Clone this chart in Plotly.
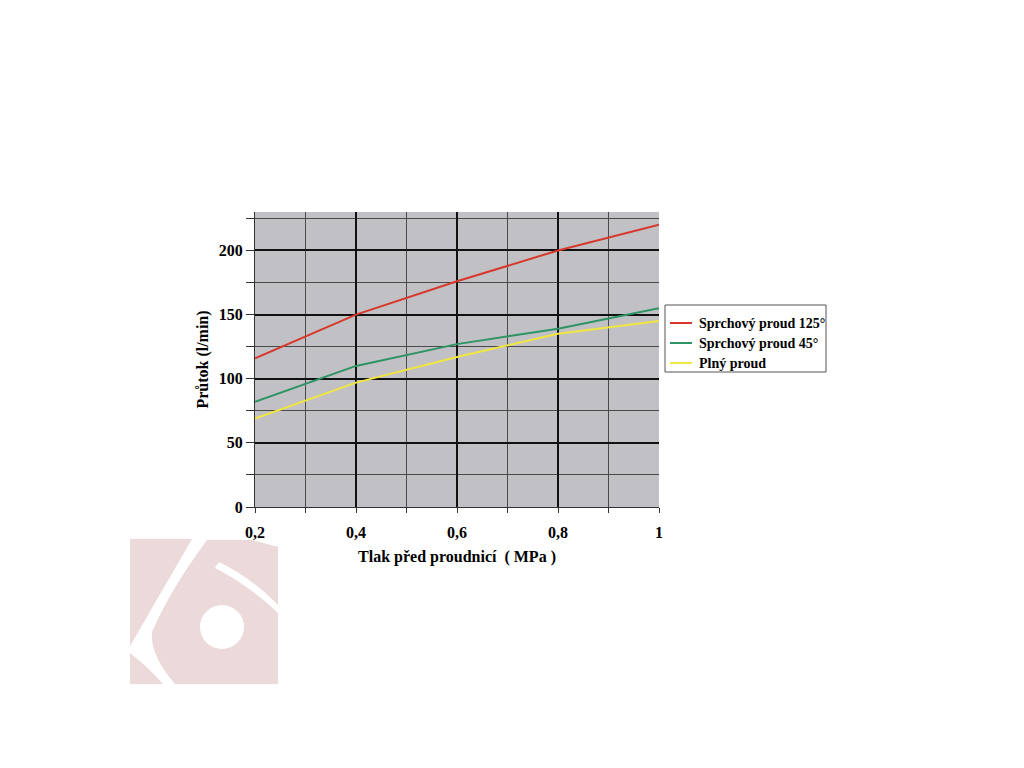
import plotly.graph_objects as go

# Data
pressure = [0.2, 0.4, 0.6, 0.8, 1.0]
spray_125 = [116, 150, 176, 200, 220]
spray_45 = [82, 110, 127, 139, 155]
full_jet = [69, 97, 117, 135, 145]
series_names = ["Sprchový proud 125°", "Sprchový proud 45°", "Plný proud"]
x_tickvals = [0.2, 0.4, 0.6, 0.8, 1.0]
x_ticktext = ["0,2", "0,4", "0,6", "0,8", "1"]
y_tickvals = [0, 50, 100, 150, 200]

colors = ["#d8382c", "#2e9464", "#f0e640"]
FONT = "Liberation Serif"

fig = go.Figure()
for name, ys, c in zip(series_names, [spray_125, spray_45, full_jet], colors):
    fig.add_trace(go.Scatter(x=pressure, y=ys, mode="lines", name=name,
                             line=dict(color=c, width=2), showlegend=False))

# plot area in screen pixels (page body has an 8px margin)
OFF = 8
L, R, T, B = 255, 659, 212, 507
W, H = 1024 - 2 * OFF, 768 - 2 * OFF


def px(x, y):
    return (x - L) / (R - L), (B - y) / (B - T)


def path(points, close=True):
    s = ""
    for cmd, pts in points:
        s += cmd + " ".join("%.4f,%.4f" % px(*p) for p in pts) + " "
    if close:
        s += "Z"
    return s


pink = "#ecd9d9"
shapes = []


def fill(points, color):
    shapes.append(dict(type="path", xref="paper", yref="paper", layer="below",
                       path=path(points), fillcolor=color, line=dict(width=0)))


# logo: left piece
fill([("M", [(130, 539)]), ("L", [(192, 539)]), ("L", [(148, 615)]), ("L", [(130, 646)])], pink)
# logo: bottom-left triangle
fill([("M", [(130, 653)]), ("Q", [(148, 667), (163, 684)]), ("L", [(130, 684)])], pink)
# logo: eye + top-right piece
fill([("M", [(152, 632)]), ("Q", [(170, 590), (207, 540)]), ("L", [(252, 540)]),
      ("L", [(278, 547)]), ("L", [(278, 684)]), ("L", [(175, 684)]),
      ("Q", [(150, 655), (152, 632)])], pink)
# white cut between eye and top-right piece
fill([("M", [(219, 562)]), ("Q", [(252, 578), (279, 606)]), ("L", [(279, 614)]),
      ("Q", [(250, 586), (215, 568)])], "white")
cx, cy, r = 222, 627, 22
x0, y0 = px(cx - r, cy + r)
x1, y1 = px(cx + r, cy - r)
shapes.append(dict(type="circle", xref="paper", yref="paper", layer="below",
                   x0=x0, y0=y0, x1=x1, y1=y1, fillcolor="white", line=dict(width=0)))

# legend (box, line samples, labels)
lx0, ly0 = px(665, 372)
lx1, ly1 = px(826, 305)
shapes.append(dict(type="rect", xref="paper", yref="paper", x0=lx0, y0=ly0, x1=lx1, y1=ly1,
                   fillcolor="white", line=dict(color="#555555", width=1)))
annotations = []
rows_y = [323, 343, 363]
for name, c, yy in zip(series_names, colors, rows_y):
    a0, b0 = px(670, yy)
    a1, _ = px(692, yy)
    shapes.append(dict(type="line", xref="paper", yref="paper", x0=a0, y0=b0, x1=a1, y1=b0,
                       line=dict(color=c, width=2)))
    tx, _ = px(697, yy)
    annotations.append(dict(text=name, xref="paper", yref="paper", x=tx, y=b0,
                            xanchor="left", yanchor="middle", showarrow=False,
                            font=dict(family=FONT, size=14, color="black", weight="bold")))

fig.update_layout(
    width=W, height=H,
    margin=dict(l=L - OFF, r=W - (R - OFF), t=T - OFF, b=H - (B - OFF), pad=0),
    paper_bgcolor="white",
    plot_bgcolor="#c1c1c5",
    font=dict(family=FONT, color="black", size=16),
    shapes=shapes,
    annotations=annotations,
    showlegend=False,
    xaxis=dict(
        range=[0.2, 1.0], tickvals=x_tickvals, ticktext=x_ticktext,
        showgrid=True, gridcolor="#111111", gridwidth=1.5,
        ticks="outside", ticklen=5, tickcolor="#333333", ticklabelstandoff=6,
        tickfont=dict(family=FONT, size=16, color="black", weight="bold"),
        minor=dict(dtick=0.1, tick0=0.2, showgrid=True, gridcolor="#4a4a4a", gridwidth=1,
                   ticks="outside", ticklen=5, tickcolor="#333333"),
        showline=True, linecolor="#333333", linewidth=1, zeroline=False,
        title=dict(text="Tlak před proudnicí  ( MPa )", standoff=10,
                   font=dict(family=FONT, size=16, color="black", weight="bold")),
    ),
    yaxis=dict(
        range=[0, 230], tickvals=y_tickvals,
        showgrid=True, gridcolor="#111111", gridwidth=1.5,
        ticks="outside", ticklen=8, tickcolor="#333333",
        tickfont=dict(family=FONT, size=16, color="black", weight="bold"),
        minor=dict(dtick=25, tick0=0, showgrid=True, gridcolor="#4a4a4a", gridwidth=1,
                   ticks="outside", ticklen=8, tickcolor="#333333"),
        showline=True, linecolor="#333333", linewidth=1, zeroline=False,
        title=dict(text="Průtok (l/min)", standoff=6,
                   font=dict(family=FONT, size=16, color="black", weight="bold")),
    ),
)

fig.write_html("out.html")
